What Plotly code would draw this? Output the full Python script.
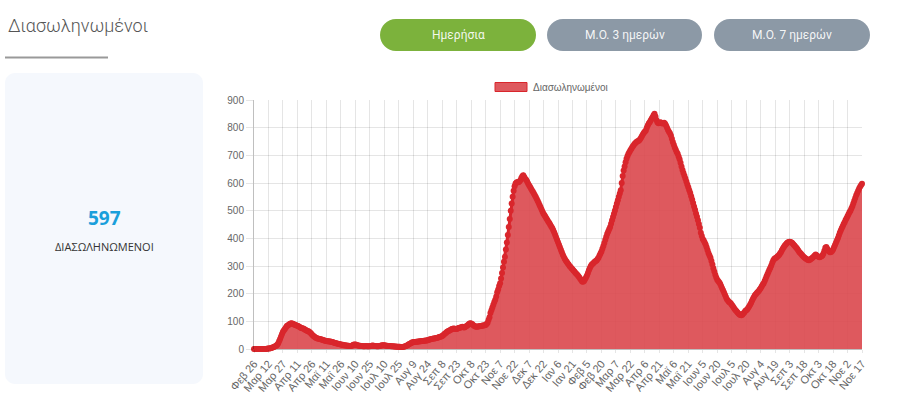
import plotly.graph_objects as go
import pandas as pd

# ---------------- data ----------------
start_date = "2020-02-26"
greek_months = ["Ιαν", "Φεβ", "Μαρ", "Απρ", "Μαϊ", "Ιουν", "Ιουλ", "Αυγ", "Σεπ", "Οκτ", "Νοε", "Δεκ"]
tick_step = 15
y_ticks = [0, 100, 200, 300, 400, 500, 600, 700, 800, 900]
series_name = "Διασωληνωμένοι"
latest_value = 597
card_label = "ΔΙΑΣΩΛΗΝΩΜΕΝΟΙ"
buttons = ["Ημερήσια", "Μ.Ο. 3 ημερών", "Μ.Ο. 7 ημερών"]

intubated = [
    0, 0, 0, 0, 0, 0, 0, 0, 0, 0, 0, 0, 0, 0, 2,
    2, 2, 3, 4, 5, 6, 8, 10, 12, 15, 20, 28, 36, 45, 54,
    62, 68, 72, 78, 83, 85, 88, 90, 92, 93, 91, 90, 88, 87, 85,
    84, 82, 80, 78, 76, 75, 74, 72, 70, 68, 66, 64, 63, 60, 57,
    52, 49, 46, 43, 41, 39, 38, 37, 36, 35, 34, 33, 32, 31, 30,
    29, 28, 28, 27, 27, 26, 25, 24, 23, 22, 21, 20, 19, 18, 17,
    16, 15, 15, 14, 14, 13, 13, 12, 12, 11, 11, 12, 13, 15, 16,
    16, 15, 14, 13, 12, 12, 11, 11, 10, 10, 10, 11, 10, 10, 10,
    10, 11, 12, 13, 12, 11, 11, 10, 10, 10, 11, 12, 13, 14, 14,
    14, 13, 12, 12, 11, 11, 11, 10, 10, 10, 9, 9, 9, 8, 8,
    8, 8, 7, 7, 7, 8, 9, 10, 12, 14, 16, 18, 20, 22, 24,
    24, 25, 25, 26, 26, 27, 27, 28, 28, 29, 29, 30, 30, 31, 31,
    32, 33, 34, 35, 36, 37, 38, 38, 39, 40, 41, 42, 43, 44, 45,
    47, 50, 53, 56, 59, 62, 64, 66, 68, 70, 72, 73, 74, 73, 72,
    72, 74, 76, 77, 78, 79, 80, 79, 78, 80, 82, 85, 88, 91, 93,
    92, 90, 87, 84, 82, 80, 80, 81, 82, 82, 83, 84, 85, 85, 86,
    87, 90, 95, 105, 115, 130, 140, 150, 160, 170, 178, 190, 205, 215, 228,
    238, 255, 275, 295, 315, 333, 360, 385, 412, 441, 470, 500, 526, 550, 572,
    588, 598, 602, 604, 603, 605, 610, 618, 624, 628, 622, 615, 612, 605, 598,
    592, 586, 580, 574, 568, 562, 556, 549, 542, 535, 528, 520, 512, 504, 496,
    489, 483, 478, 472, 466, 460, 455, 449, 443, 437, 430, 422, 413, 404, 395,
    386, 377, 368, 359, 350, 341, 333, 326, 320, 315, 310, 305, 300, 296, 292,
    288, 284, 280, 276, 272, 268, 264, 259, 254, 249, 244, 243, 246, 252, 258,
    266, 275, 285, 293, 300, 305, 308, 312, 315, 318, 320, 325, 330, 338, 345,
    352, 362, 372, 383, 395, 406, 417, 425, 433, 441, 453, 465, 477, 489, 501,
    513, 526, 538, 550, 562, 574, 600, 625, 645, 660, 675, 688, 698, 706, 712,
    718, 724, 730, 735, 740, 744, 747, 750, 752, 754, 758, 764, 770, 776, 782,
    786, 790, 800, 808, 815, 820, 826, 832, 838, 845, 850, 840, 828, 820, 816,
    818, 820, 818, 815, 816, 818, 814, 808, 800, 792, 785, 780, 772, 760, 748,
    738, 728, 720, 712, 706, 696, 686, 673, 660, 647, 636, 626, 616, 605, 595,
    585, 574, 564, 552, 540, 528, 515, 503, 490, 478, 465, 452, 438, 420, 408,
    398, 392, 385, 378, 368, 357, 346, 338, 330, 318, 305, 292, 280, 268, 258,
    250, 246, 241, 236, 228, 220, 212, 204, 196, 188, 180, 175, 171, 168, 165,
    160, 155, 150, 145, 140, 136, 132, 128, 125, 123, 122, 124, 128, 132, 137,
    140, 143, 148, 154, 160, 166, 174, 182, 188, 194, 198, 202, 206, 210, 215,
    220, 226, 232, 237, 245, 253, 262, 270, 278, 286, 294, 302, 312, 320, 325,
    328, 330, 333, 336, 340, 345, 350, 357, 363, 369, 374, 378, 382, 385, 387,
    388, 387, 385, 382, 378, 374, 370, 366, 361, 356, 351, 347, 343, 339, 335,
    332, 329, 326, 324, 322, 321, 323, 325, 328, 331, 334, 338, 342, 338, 335,
    333, 332, 333, 335, 338, 345, 355, 366, 369, 362, 356, 352, 350, 351, 354,
    360, 368, 376, 384, 392, 400, 410, 420, 428, 436, 444, 452, 458, 466, 473,
    480, 487, 494, 500, 508, 516, 526, 536, 546, 556, 564, 572, 580, 586, 592,
    597,
]

dates = pd.date_range(start_date, periods=len(intubated), freq="D")
tick_dates = dates[::tick_step]
tick_text = [f"{greek_months[d.month - 1]} {d.day}" for d in tick_dates]

# ---------------- geometry helpers ----------------
W, H = 900, 419
L, R, T, B = 254, 38, 100, 70
PW, PH = W - L - R, H - T - B


def px(x):
    return (x - L) / PW


def py(y):
    return (H - B - y) / PH


def rrect(x0, y0, x1, y1, r):
    k = 0.5523 * r
    P = lambda x, y: f"{px(x):.5f},{py(y):.5f}"
    return (
        f"M{P(x0 + r, y0)} L{P(x1 - r, y0)} "
        f"C{P(x1 - r + k, y0)} {P(x1, y0 + r - k)} {P(x1, y0 + r)} "
        f"L{P(x1, y1 - r)} "
        f"C{P(x1, y1 - r + k)} {P(x1 - r + k, y1)} {P(x1 - r, y1)} "
        f"L{P(x0 + r, y1)} "
        f"C{P(x0 + r - k, y1)} {P(x0, y1 - r + k)} {P(x0, y1 - r)} "
        f"L{P(x0, y0 + r)} "
        f"C{P(x0, y0 + r - k)} {P(x0 + r - k, y0)} {P(x0 + r, y0)} Z"
    )


LINE_COLOR = "#d9262c"
FILL_COLOR = "rgba(219,75,80,0.92)"
Y_TICK_FONT = dict(family="Liberation Sans, Arial, sans-serif", size=10, color="#666666")
X_TICK_FONT = dict(family="Liberation Sans, Arial, sans-serif", size=11, color="#666666")

fig = go.Figure()
fig.add_trace(
    go.Scatter(
        x=dates,
        y=intubated,
        name=series_name,
        mode="lines+markers",
        fill="tozeroy",
        fillcolor=FILL_COLOR,
        line=dict(color=LINE_COLOR, width=3),
        marker=dict(size=6, color=LINE_COLOR),
        cliponaxis=False,
        showlegend=False,
    )
)

shapes = []
annotations = []

# left card
shapes.append(dict(type="path", xref="paper", yref="paper", path=rrect(5, 73, 203, 384, 10),
                   fillcolor="#f5f8fd", line=dict(width=0), layer="below"))
# title underline
shapes.append(dict(type="line", xref="paper", yref="paper", x0=px(5), x1=px(108), y0=py(57.5), y1=py(57.5),
                   line=dict(color="#999999", width=2)))
# buttons
btn_boxes = [(380, 19, 536, 51, "#7cb23c"), (547, 19, 702, 51, "#8c99a6"), (714, 19, 870, 51, "#8c99a6")]
for (x0, y0, x1, y1, c), label in zip(btn_boxes, buttons):
    shapes.append(dict(type="path", xref="paper", yref="paper", path=rrect(x0, y0, x1, y1, 16),
                       fillcolor=c, line=dict(width=0)))
    annotations.append(dict(xref="paper", yref="paper", x=px((x0 + x1) / 2), y=py((y0 + y1) / 2),
                            text=label, showarrow=False, xanchor="center", yanchor="middle",
                            font=dict(family="Roboto, sans-serif", size=12, color="rgba(255,255,255,0.92)")))

# legend box
shapes.append(dict(type="rect", xref="paper", yref="paper", x0=px(495), x1=px(527), y0=py(82.5), y1=py(91.5),
                   fillcolor=FILL_COLOR, line=dict(color=LINE_COLOR, width=1)))
annotations.append(dict(xref="paper", yref="paper", x=px(531), y=py(87), text=series_name, showarrow=False,
                        xanchor="left", yanchor="middle",
                        font=dict(family="Liberation Sans, Arial, sans-serif", size=10, color="#666666")))

# page title
annotations.append(dict(xref="paper", yref="paper", x=px(6), y=py(25), text=series_name, showarrow=False,
                        xanchor="left", yanchor="middle",
                        font=dict(family="Roboto, sans-serif", size=18, color="#555555", weight=300)))
# card numbers
annotations.append(dict(xref="paper", yref="paper", x=px(104), y=py(218), text=f"<b>{latest_value}</b>",
                        showarrow=False, xanchor="center", yanchor="middle",
                        font=dict(family="Open Sans, sans-serif", size=19, color="#1a9fdb")))
annotations.append(dict(xref="paper", yref="paper", x=px(104), y=py(246), text=card_label,
                        showarrow=False, xanchor="center", yanchor="middle",
                        font=dict(family="Open Sans, sans-serif", size=11, color="#333333")))

fig.update_layout(
    width=W,
    height=H,
    margin=dict(l=L, r=R, t=T, b=B, pad=0),
    paper_bgcolor="white",
    plot_bgcolor="white",
    showlegend=False,
    shapes=shapes,
    annotations=annotations,
    xaxis=dict(
        type="date",
        range=[dates[0], dates[-1]],
        tickmode="array",
        tickvals=list(tick_dates),
        ticktext=tick_text,
        tickangle=-50,
        tickfont=X_TICK_FONT,
        showgrid=True,
        gridcolor="rgba(0,0,0,0.1)",
        gridwidth=1,
        ticks="outside",
        ticklen=3,
        tickcolor="rgba(0,0,0,0.1)",
        showline=False,
        zeroline=False,
        fixedrange=True,
    ),
    yaxis=dict(
        range=[0, 900],
        tickmode="array",
        tickvals=y_ticks,
        tickfont=Y_TICK_FONT,
        showgrid=True,
        gridcolor="rgba(0,0,0,0.1)",
        gridwidth=1,
        ticks="outside",
        ticklen=7,
        tickcolor="rgba(0,0,0,0.1)",
        showline=True,
        linecolor="rgba(0,0,0,0.25)",
        linewidth=1,
        zeroline=True,
        zerolinecolor="rgba(0,0,0,0.25)",
        zerolinewidth=1,
        fixedrange=True,
    ),
)

fig.write_html("out.html")
